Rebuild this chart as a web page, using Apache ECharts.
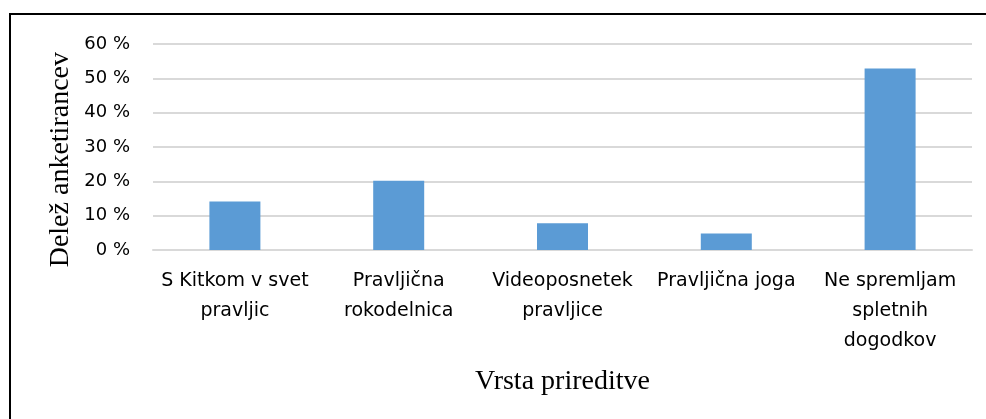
<!DOCTYPE html>
<html>
<head>
<meta charset="utf-8">
<script src="https://cdn.jsdelivr.net/npm/echarts@6/dist/echarts.min.js"></script>
<style>
    html, body {
        margin: 0;
        padding: 0;
        background: #fff;
    }
    #chart {
        position: absolute;
        left: 0;
        top: 0;
        width: 986px;
        height: 419px;
    }
    /* okvir slike: samo zgoraj in levo */
    .frame {
        position: absolute;
        left: 9px;
        top: 13px;
        right: 0;
        bottom: 0;
        border-top: 2px solid #000;
        border-left: 2px solid #000;
        pointer-events: none;
    }
</style>
</head>
<body>
<div id="chart"></div>
<div class="frame"></div>
<script>
// podatki
const categories = [
    'S Kitkom v svet\npravljic',
    'Pravljična\nrokodelnica',
    'Videoposnetek\npravljice',
    'Pravljična joga',
    'Ne spremljam\nspletnih\ndogodkov'
]
const shares = [14.1, 20.2, 7.8, 4.8, 52.9]
const yTicks = { min: 0, max: 60, step: 10 }
const yTitle = 'Delež anketirancev'
const xTitle = 'Vrsta prireditve'

const chart = echarts.init(document.getElementById('chart'))

const option = {
    animation: false,
    grid: {
        left: 153,
        right: 14,
        top: 44,
        bottom: 169
    },
    xAxis: {
        type: 'category',
        data: categories,
        name: xTitle,
        nameLocation: 'middle',
        nameGap: 118,
        nameTextStyle: {
            fontFamily: 'Liberation Serif',
            fontSize: 28,
            color: '#000'
        },
        axisLine: {
            lineStyle: { color: '#d9d9d9', width: 2 }
        },
        axisTick: { show: false },
        axisLabel: {
            interval: 0,
            margin: 16,
            fontFamily: 'DejaVu Sans',
            fontSize: 19,
            lineHeight: 30,
            color: '#000'
        }
    },
    yAxis: {
        type: 'value',
        min: yTicks.min,
        max: yTicks.max,
        interval: yTicks.step,
        axisLine: { show: false },
        axisTick: { show: false },
        splitLine: {
            lineStyle: { color: '#d9d9d9', width: 2 }
        },
        axisLabel: {
            margin: 23,
            fontFamily: 'DejaVu Sans',
            fontSize: 18,
            color: '#000',
            formatter: '{value} %'
        }
    },
    graphic: [{
        type: 'text',
        left: 47,
        top: 52,
        rotation: Math.PI / 2,
        style: {
            text: yTitle,
            fontFamily: 'Liberation Serif',
            fontSize: 28,
            fill: '#000'
        }
    }],
    series: [{
        name: yTitle,
        type: 'bar',
        data: shares,
        barWidth: 51,
        itemStyle: {
            color: '#5b9bd5'
        }
    }]
}
chart.setOption(option)
</script>
</body>
</html>
